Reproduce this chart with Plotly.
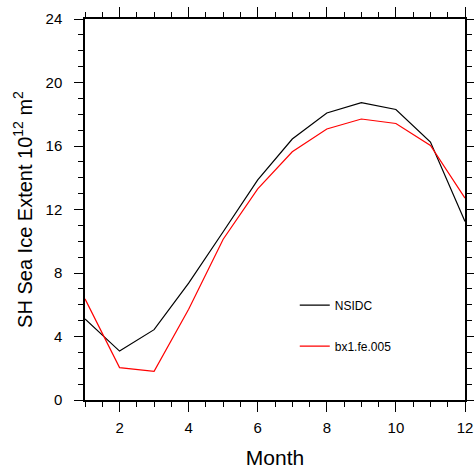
import plotly.graph_objects as go

months = list(range(1, 13))
nsidc = [5.1, 3.08, 4.43, 7.36, 10.6, 13.87, 16.44, 18.08, 18.73, 18.3, 16.25, 11.24]
model = [6.37, 2.04, 1.81, 5.72, 10.13, 13.3, 15.64, 17.07, 17.7, 17.42, 16.03, 12.72]
series_names = ["NSIDC", "bx1.fe.005"]
x_ticks = [2, 4, 6, 8, 10, 12]
y_ticks = [0, 4, 8, 12, 16, 20, 24]

FONT = "Liberation Sans, Arial, Helvetica, sans-serif"

fig = go.Figure()
fig.add_trace(go.Scatter(x=months, y=nsidc, mode="lines", name=series_names[0],
                         line=dict(color="black", width=1.2), legendgroup="a"))
fig.add_trace(go.Scatter(x=months, y=model, mode="lines", name=series_names[1],
                         line=dict(color="red", width=1.2), legendgroup="b"))

axis_common = dict(showline=True, linecolor="black", linewidth=1.5, mirror="allticks",
                   ticks="outside", tickcolor="black", tickwidth=1, showgrid=False,
                   zeroline=False, ticklabeloverflow="allow",
                   tickfont=dict(family=FONT, size=15, color="black"))

fig.update_xaxes(range=[1, 12], tickvals=x_ticks, ticklen=10, ticklabelstandoff=3,
                 minor=dict(dtick=0.5, tick0=1, ticklen=5, ticks="outside", tickcolor="black", showgrid=False),
                 title=dict(text="Month", font=dict(family=FONT, size=21, color="black"), standoff=16),
                 **axis_common)
fig.update_yaxes(range=[0, 24], tickvals=y_ticks, ticklen=9, ticklabelstandoff=9,
                 minor=dict(dtick=1, tick0=0, ticklen=5, ticks="outside", tickcolor="black", showgrid=False),
                 title=dict(text="SH Sea Ice Extent 10<sup>12</sup> m<sup>2</sup>",
                            font=dict(family=FONT, size=20, color="black"), standoff=8),
                 **axis_common)

fig.update_layout(
    width=474, height=469,
    margin=dict(l=85, r=9, t=19, b=69, autoexpand=False),
    plot_bgcolor="white", paper_bgcolor="white",
    showlegend=True,
    legend=dict(x=0.552, y=0.287, xanchor="left", yanchor="top",
                font=dict(family=FONT, size=12, color="black"),
                bgcolor="rgba(0,0,0,0)", traceorder="grouped", tracegroupgap=22),
)

fig.write_html("out.html", config={"displayModeBar": False},
               post_script="document.body.style.margin='0';document.body.style.overflow='hidden';")
